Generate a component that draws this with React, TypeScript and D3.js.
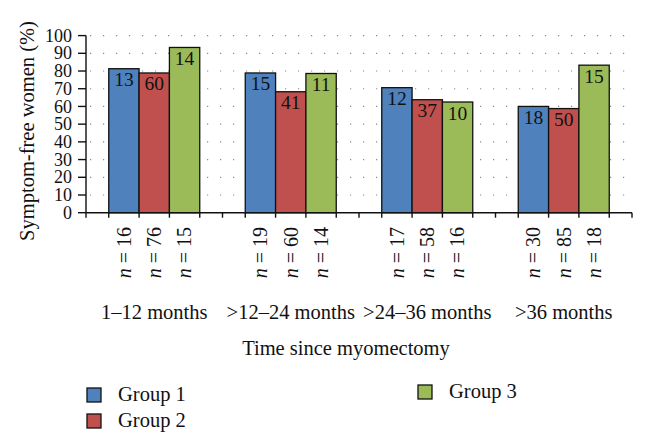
import React, { useEffect, useRef } from 'react';
import * as d3 from 'd3';

const categories = ['1–12 months', '>12–24 months', '>24–36 months', '>36 months'];
const groups = ['Group 1', 'Group 2', 'Group 3'];
const colors = ['#4F81BD', '#C0504D', '#9BBB59'];

// percentage of symptom-free women, per category, per group
const group1Pct = [81.3, 78.9, 70.6, 60.0];
const group2Pct = [78.9, 68.3, 63.8, 58.8];
const group3Pct = [93.3, 78.6, 62.5, 83.3];

// symptom-free counts (printed in bars) and group sizes (n = ...)
const group1Free = [13, 15, 12, 18];
const group2Free = [60, 41, 37, 50];
const group3Free = [14, 11, 10, 15];
const group1N = [16, 19, 17, 30];
const group2N = [76, 60, 58, 85];
const group3N = [15, 14, 16, 18];

const yTicks = [0, 10, 20, 30, 40, 50, 60, 70, 80, 90, 100];

const FONT = '"Liberation Serif", "Times New Roman", serif';

const App: React.FC = () => {
    const svgRef = useRef<SVGSVGElement>(null);

    useEffect(() => {
        if (!svgRef.current) return;
        const svg = d3.select(svgRef.current);
        svg.selectAll('*').remove();

        const pct = [group1Pct, group2Pct, group3Pct];
        const free = [group1Free, group2Free, group3Free];
        const ns = [group1N, group2N, group3N];

        const left = 86, right = 632, top = 35.6, bottom = 212.7;

        const x0 = d3.scaleBand().domain(categories).range([left, right]).padding(0);
        const bw = x0.bandwidth();
        const x1 = d3.scaleBand().domain(groups).range([bw / 6, bw * 5 / 6]).padding(0);
        const y = d3.scaleLinear().domain([0, 100]).range([bottom, top]);

        // dotted grid
        svg.append('g')
            .selectAll('line')
            .data(yTicks.filter(t => t > 0))
            .enter()
            .append('line')
            .attr('x1', left + 4)
            .attr('x2', right)
            .attr('y1', d => y(d))
            .attr('y2', d => y(d))
            .attr('stroke', '#8a8a8a')
            .attr('stroke-width', 1.2)
            .attr('stroke-dasharray', '1.2 11.8');

        // bars
        const rows = categories.flatMap((c, ci) => groups.map((g, gi) => ({
            c, g, gi, value: pct[gi][ci], count: free[gi][ci], n: ns[gi][ci],
        })));

        const barX = (d: any) => (x0(d.c) || 0) + (x1(d.g) || 0);

        svg.append('g')
            .selectAll('rect')
            .data(rows)
            .enter()
            .append('rect')
            .attr('x', barX)
            .attr('y', d => y(d.value))
            .attr('width', x1.bandwidth())
            .attr('height', d => bottom - y(d.value))
            .attr('fill', d => colors[d.gi])
            .attr('stroke', '#111')
            .attr('stroke-width', 1.3);

        svg.append('g')
            .selectAll('text')
            .data(rows)
            .enter()
            .append('text')
            .attr('x', d => barX(d) + x1.bandwidth() / 2)
            .attr('y', d => y(d.value) + 17.5)
            .attr('text-anchor', 'middle')
            .style('font-family', FONT)
            .style('font-size', '19.5px')
            .attr('fill', '#111')
            .text(d => d.count);

        // x axis line with ticks at band and bar edges
        const xTicks: number[] = [];
        categories.forEach(c => {
            xTicks.push(x0(c) || 0);
            groups.forEach(g => xTicks.push((x0(c) || 0) + (x1(g) || 0)));
            xTicks.push((x0(c) || 0) + (x1(groups[2]) || 0) + x1.bandwidth());
        });
        xTicks.push(right);

        const axis = svg.append('g').attr('stroke', '#111').attr('stroke-width', 1.4);
        axis.append('line').attr('x1', left).attr('x2', right).attr('y1', bottom).attr('y2', bottom);
        axis.selectAll('.xt').data(xTicks).enter().append('line')
            .attr('class', 'xt')
            .attr('x1', d => d).attr('x2', d => d)
            .attr('y1', bottom).attr('y2', bottom + 5);

        // y axis
        axis.append('line').attr('x1', left).attr('x2', left).attr('y1', top).attr('y2', bottom);
        axis.selectAll('.yt').data(yTicks).enter().append('line')
            .attr('class', 'yt')
            .attr('x1', left - 8).attr('x2', left)
            .attr('y1', d => y(d)).attr('y2', d => y(d));

        svg.append('g')
            .selectAll('text')
            .data(yTicks)
            .enter()
            .append('text')
            .attr('x', 72)
            .attr('y', d => y(d))
            .attr('dy', '0.34em')
            .attr('text-anchor', 'end')
            .style('font-family', FONT)
            .style('font-size', '18px')
            .attr('fill', '#111')
            .text(d => d);

        // n = labels, rotated
        const nLabels = svg.append('g')
            .selectAll('text')
            .data(rows)
            .enter()
            .append('text')
            .attr('transform', d => `translate(${barX(d) + x1.bandwidth() / 2},227) rotate(-90)`)
            .attr('dy', '0.34em')
            .attr('text-anchor', 'end')
            .style('font-family', FONT)
            .style('font-size', '20px')
            .attr('fill', '#111');
        nLabels.append('tspan').style('font-style', 'italic').text('n');
        nLabels.append('tspan').text(d => ` = ${d.n}`);

        // category labels
        svg.append('g')
            .selectAll('text')
            .data(categories)
            .enter()
            .append('text')
            .attr('x', d => (x0(d) || 0) + bw / 2)
            .attr('y', 319)
            .attr('text-anchor', 'middle')
            .style('font-family', FONT)
            .style('font-size', '20.5px')
            .attr('fill', '#111')
            .text(d => d);

        // axis titles
        svg.append('text')
            .attr('x', 346)
            .attr('y', 355)
            .attr('text-anchor', 'middle')
            .style('font-family', FONT)
            .style('font-size', '20.5px')
            .attr('fill', '#111')
            .text('Time since myomectomy');

        svg.append('text')
            .attr('transform', 'translate(34,131) rotate(-90)')
            .attr('text-anchor', 'middle')
            .style('font-family', FONT)
            .style('font-size', '20.5px')
            .attr('fill', '#111')
            .text('Symptom-free women (%)');

        // legend
        const legendPos = [
            { x: 87, y: 388 },
            { x: 87, y: 414 },
            { x: 418, y: 385 },
        ];
        const legend = svg.append('g')
            .selectAll('g')
            .data(groups)
            .enter()
            .append('g')
            .attr('transform', (d, i) => `translate(${legendPos[i].x},${legendPos[i].y})`);
        legend.append('rect')
            .attr('width', 14)
            .attr('height', 14)
            .attr('fill', (d, i) => colors[i])
            .attr('stroke', '#111')
            .attr('stroke-width', 1.3);
        legend.append('text')
            .attr('x', 31)
            .attr('y', 13)
            .style('font-family', FONT)
            .style('font-size', '20.5px')
            .attr('fill', '#111')
            .text(d => d);
    }, []);

    return (
        <svg
            ref={svgRef}
            width={646}
            height={446}
            style={{ position: 'absolute', left: 0, top: 0, background: '#fff' }}
        />
    );
};

export default App;
